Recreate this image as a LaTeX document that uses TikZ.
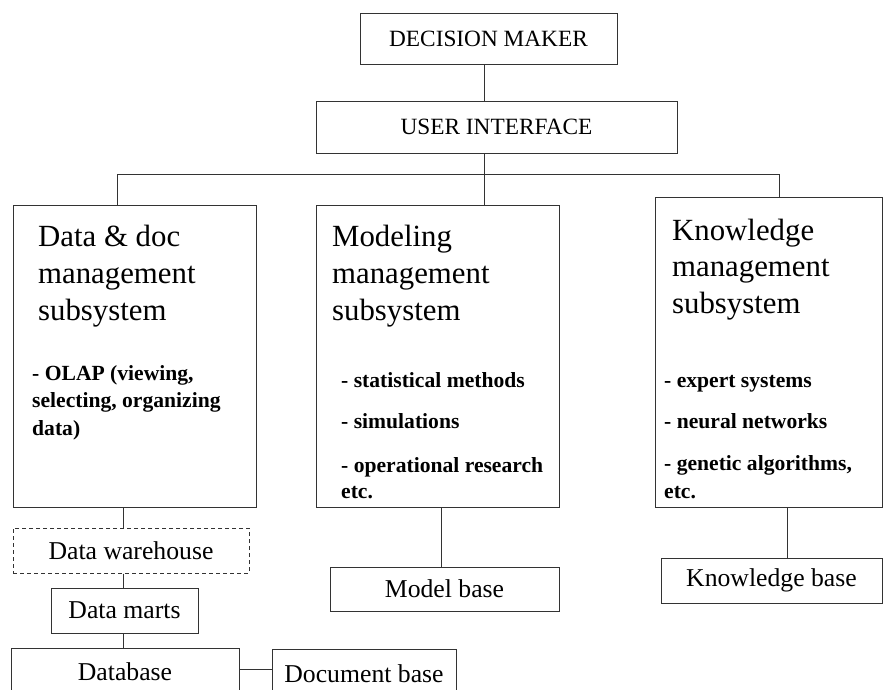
\documentclass[tikz,border=0pt]{standalone}
\usepackage{fontspec}
\setmainfont{Liberation Serif}
\begin{document}
\begin{tikzpicture}[x=1pt,y=-1pt,
  box/.style={draw=black!80, line width=1pt, rectangle, inner sep=0pt, fill=white},
  lbl/.style={font=\fontsize{25.7}{30}\selectfont},
  captxt/.style={font=\fontsize{23.3}{28}\selectfont},
  ttl/.style={anchor=base west, align=left, inner sep=0pt, font=\fontsize{30.8}{37}\selectfont},
  itm/.style={anchor=base west, align=left, inner sep=0pt, font=\fontsize{21.6}{26.5}\selectfont\bfseries},
  conn/.style={draw=black!80, line width=1pt}]
\clip (0,0) rectangle (883,689);
\fill[white] (0,0) rectangle (883,689);
% top boxes
\node[box, captxt, minimum width=257pt, minimum height=51pt] (dm) at (488.5,38.5) {DECISION MAKER};
\node[box, captxt, minimum width=361pt, minimum height=52pt] (ui) at (496.5,127) {USER INTERFACE};
% subsystem boxes
\node[box, minimum width=243pt, minimum height=302pt] (data) at (134.5,356) {};
\node[box, minimum width=243pt, minimum height=302pt] (model) at (437.5,356) {};
\node[box, minimum width=227pt, minimum height=310pt] (know) at (768.5,352) {};
% bottom boxes
\node[box, lbl, dash pattern=on 4pt off 3pt, minimum width=236pt, minimum height=45pt] (dw) at (131,550.5) {Data warehouse};
\node[box, lbl, minimum width=147pt, minimum height=45pt] (dmarts) at (124.5,610.5) {Data marts};
\node[box, lbl, minimum width=228pt, minimum height=48pt] (db) at (125,672) {Database};
\node[box, lbl, minimum width=184pt, minimum height=50pt] (docb) at (364,674) {Document base};
\node[box, lbl, minimum width=229pt, minimum height=44pt] (mb) at (444.5,589) {Model base};
\node[box, lbl, minimum width=221pt, minimum height=45pt] (kb) at (771.5,580.5) {Knowledge base};
% texts in subsystem boxes (base anchor = last line baseline)
\node[ttl] (datat) at (38,320) {Data \& doc\\management\\subsystem};
\node[itm] (datai) at (32,435) {- OLAP (viewing,\\selecting, organizing\\[1.5pt]data)};
\node[ttl] (modelt) at (332,320) {Modeling\\management\\subsystem};
\node[itm] (modeli) at (341,498) {- statistical methods\\[14.5pt]- simulations\\[17.5pt]- operational research\\[-0.5pt]etc.};
\node[ttl, font=\fontsize{30.8}{36.5}\selectfont] (knowt) at (672,313) {Knowledge\\management\\subsystem};
\node[itm] (knowi) at (664,498) {- expert systems\\[14.5pt]- neural networks\\[15.5pt]- genetic algorithms,\\[1.5pt]etc.};
% connector coordinates
\coordinate (busc) at (484,174);
\coordinate (busl) at (117,174);
\coordinate (busr) at (779,174);
\coordinate (lcol) at (123,520);
\coordinate (mcol) at (441,520);
\coordinate (kcol) at (787,520);
\coordinate (dbl) at (0,669);
% connectors
\draw[conn] (dm.south -| busc) -- (ui.north -| busc);
\draw[conn] (ui.south -| busc) -- (model.north -| busc);
\draw[conn] (data.north -| busl) -- (busl) -- (busr) -- (know.north -| busr);
\draw[conn] (data.south -| lcol) -- (dw.north -| lcol);
\draw[conn] (dw.south -| lcol) -- (dmarts.north -| lcol);
\draw[conn] (dmarts.south -| lcol) -- (db.north -| lcol);
\draw[conn] (db.east |- dbl) -- (docb.west |- dbl);
\draw[conn] (model.south -| mcol) -- (mb.north -| mcol);
\draw[conn] (know.south -| kcol) -- (kb.north -| kcol);
\end{tikzpicture}
\end{document}
